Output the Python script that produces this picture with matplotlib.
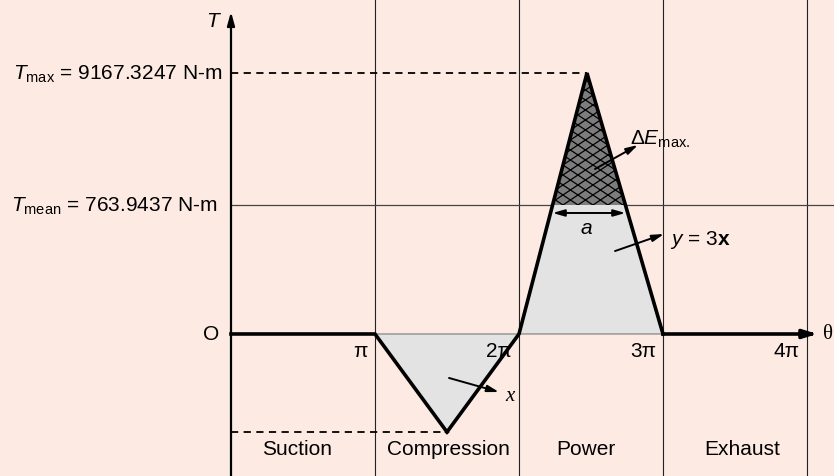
import numpy as np
import matplotlib
matplotlib.use('Agg')
import matplotlib.pyplot as plt
from matplotlib.patches import Polygon

plt.rcParams['font.family'] = ['Liberation Sans', 'DejaVu Sans']
plt.rcParams['mathtext.fontset'] = 'custom'
plt.rcParams['mathtext.rm'] = 'Liberation Sans'
plt.rcParams['mathtext.it'] = 'Liberation Sans:italic'
plt.rcParams['mathtext.bf'] = 'Liberation Sans:bold'

# crank angle in units of pi, torque in diagram units (T_mean = 1)
theta = [0.0, 1.0, 1.5, 2.0, 2.472, 3.0, 4.0]
torque = [0.0, 0.0, -0.76, 0.0, 2.023, 0.0, 0.0]
t_mean = 1.0
tick_theta = [1, 2, 3, 4]
tick_labels = ['π', '2π', '3π', '4π']
strokes = ['Suction', 'Compression', 'Power', 'Exhaust']
stroke_theta = [0.458, 1.507, 2.465, 3.549]
tmax_label = r'$T_{\mathrm{max}}$ = 9167.3247 N-m'
tmean_label = r'$T_{\mathrm{mean}}$ = 763.9437 N-m'

BG = '#fdebe3'
LIGHT = '#e3e3e3'
DARK = '#7d7d7d'

fig = plt.figure(figsize=(8.34, 4.77), dpi=100, facecolor=BG)
ax = fig.add_axes([0, 0, 1, 1])
ax.set_facecolor(BG)
ax.set_xlim(-1.604, 4.1875)
ax.set_ylim(-1.101, 2.597)
ax.set_axis_off()

th = np.array(theta)
tq = np.array(torque)
i_min = int(np.argmin(tq))
i_max = int(np.argmax(tq))

# stroke boundaries and mean torque line
for t in tick_theta:
    ax.axvline(t, color='#222222', lw=0.8, zorder=1)
ax.axhline(t_mean, xmin=(0 - ax.get_xlim()[0]) / np.ptp(ax.get_xlim()),
           color='#444444', lw=0.9, zorder=1)

# compression loop (negative work)
comp = Polygon(np.column_stack([th[1:4], tq[1:4]]), closed=True,
               facecolor=LIGHT, edgecolor='#555555', lw=0.6, zorder=2)
ax.add_patch(comp)

# power stroke triangle
power_xy = np.column_stack([th[3:6], tq[3:6]])
ax.add_patch(Polygon(power_xy, closed=True, facecolor=LIGHT,
                     edgecolor='#555555', lw=0.6, zorder=2))

# part above T_mean = maximum fluctuation of energy
t_left = th[3] + (th[4] - th[3]) * (t_mean - tq[3]) / (tq[4] - tq[3])
t_right = th[5] + (th[4] - th[5]) * (t_mean - tq[5]) / (tq[4] - tq[5])
excess = Polygon([[t_left, t_mean], [th[4], tq[4]], [t_right, t_mean]],
                 closed=True, facecolor=DARK, edgecolor='none', zorder=3)
ax.add_patch(excess)

# diamond cross-hatch, 15 px wide x 10 px tall cells
fig.canvas.draw()
p0 = ax.transData.transform((0, 0))
sx = ax.transData.transform((1, 0))[0] - p0[0]
sy = ax.transData.transform((0, 1))[1] - p0[1]
P, V = 15.0 / sx, 10.0 / sy
slope = V / P
xs = np.array([t_left - 0.2, t_right + 0.2])
for off in np.arange(-6, 6, P):
    for s in (slope, -slope):
        ln, = ax.plot(xs, t_mean + s * (xs - (th[4] + off)), color='black',
                      lw=0.9, zorder=4)
        ln.set_clip_path(excess)

# torque curve
ax.plot(th[:i_min + 1], tq[:i_min + 1], color='black', lw=2.6,
        solid_joinstyle='miter', zorder=5)
ax.plot(th[i_min:6], tq[i_min:6], color='black', lw=2.6,
        solid_joinstyle='miter', zorder=5)
ax.plot(th[5:], tq[5:], color='black', lw=2.6, zorder=5)

# axes arrows
ax.annotate('', xy=(4.09, 0), xytext=(3.99, 0),
            arrowprops=dict(arrowstyle='-|>,head_length=0.8,head_width=0.25',
                            color='black', lw=2.6), zorder=6)
ax.plot([0, 0], [-1.2, 2.42], color='black', lw=1.6, zorder=6)
ax.annotate('', xy=(0, 2.52), xytext=(0, 2.4),
            arrowprops=dict(arrowstyle='-|>,head_length=0.8,head_width=0.22',
                            color='black', lw=1.6), zorder=6)

# dashed guides to the extreme torques
ax.plot([0, th[i_max]], [tq[i_max], tq[i_max]], color='black', lw=1.3,
        ls=(0, (4, 3)), zorder=3)
ax.plot([0, th[i_min]], [tq[i_min], tq[i_min]], color='black', lw=1.3,
        ls=(0, (4, 3)), zorder=3)

fs = 15
ax.text(-0.0625, tq[i_max], tmax_label, ha='right', va='center', fontsize=fs)
ax.text(-0.09, t_mean, tmean_label, ha='right', va='center', fontsize=fs)
ax.text(-0.08, 0, 'O', ha='right', va='center', fontsize=fs)
ax.text(-0.118, 2.43, r'$T$', ha='center', va='center', fontsize=fs)
ax.text(4.183, 0, 'θ', ha='right', va='center', fontsize=fs,
        family=['Liberation Serif', 'DejaVu Serif'])

for t, lab in zip(tick_theta, tick_labels):
    ax.text(t - 0.05, -0.13, lab, ha='right', va='center', fontsize=fs)

for t, lab in zip(stroke_theta, strokes):
    ax.text(t, -0.891, lab, ha='center', va='center', fontsize=fs)

# annotations
arrow = dict(arrowstyle='-|>,head_length=0.7,head_width=0.2', color='black',
             lw=1.4, shrinkA=0, shrinkB=0)
ax.annotate('', xy=(2.826, 1.465), xytext=(2.528, 1.279), arrowprops=arrow,
            zorder=7)
ax.text(2.771, 1.52, r'$\Delta E_{\mathrm{max.}}$', ha='left', va='center',
        fontsize=fs)

ax.annotate('', xy=(t_left, 0.938), xytext=(t_right, 0.938),
            arrowprops=dict(arrowstyle='<|-|>,head_length=0.7,head_width=0.2',
                            color='black', lw=1.4, shrinkA=0, shrinkB=0),
            zorder=7)
ax.text(2.465, 0.829, r'$a$', ha='center', va='center', fontsize=fs)

ax.annotate('', xy=(3.007, 0.775), xytext=(2.667, 0.643), arrowprops=arrow,
            zorder=7)
ax.text(3.049, 0.736, r'$y$ = 3$\mathbf{x}$', ha='left', va='center',
        fontsize=fs)

ax.annotate('', xy=(1.861, -0.45), xytext=(1.514, -0.341), arrowprops=arrow,
            zorder=7)
ax.text(1.9375, -0.48, 'x', ha='center', va='center', fontsize=fs,
        family=['Liberation Serif', 'DejaVu Serif'], style='italic')

fig.savefig('out.png', dpi=100, facecolor=BG)
